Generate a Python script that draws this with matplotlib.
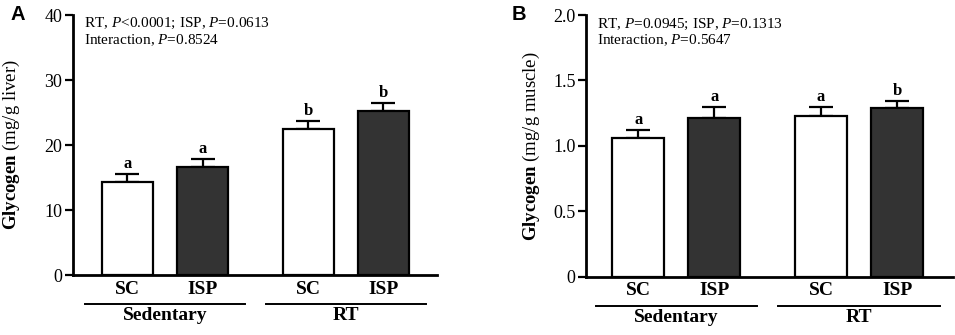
import numpy as np
import matplotlib
matplotlib.use("Agg")
from matplotlib import pyplot as plt

plt.rcParams['font.family'] = ['Liberation Serif', 'DejaVu Serif']
plt.rcParams['mathtext.fontset'] = 'custom'
plt.rcParams['mathtext.rm'] = 'Liberation Serif'
plt.rcParams['mathtext.it'] = 'Liberation Serif:italic'
plt.rcParams['mathtext.bf'] = 'Liberation Serif:bold'

# data
bar_labels = ['SC', 'ISP', 'SC', 'ISP']
groups = ['Sedentary', 'RT']
liver_mean = [14.3, 16.7, 22.4, 25.2]
liver_sem = [1.3, 1.1, 1.3, 1.3]
liver_letters = ['a', 'a', 'b', 'b']
muscle_mean = [1.06, 1.21, 1.23, 1.29]
muscle_sem = [0.058, 0.087, 0.068, 0.053]
muscle_letters = ['a', 'a', 'a', 'b']

pos = np.array([0, 1, 2.4, 3.4])
colors = ['white', '#333333', 'white', '#333333']

fig = plt.figure(figsize=(9.55, 3.35), dpi=100)


def panel(rect, means, sems, letters, ymax, yticks, ticklabels, ylab_unit, stats, letter_off, xlim):
    ax = fig.add_axes(rect)
    ax.bar(pos, means, width=0.68, color=colors, edgecolor='black', linewidth=1.6, zorder=2)
    ax.errorbar(pos, means, yerr=[np.zeros(4), sems], fmt='none', ecolor='black',
                elinewidth=1.6, capsize=8.5, capthick=1.6, zorder=1)
    for x, m, s, l in zip(pos, means, sems, letters):
        ax.text(x, m + s + letter_off, l, ha='center', va='bottom', fontsize=12, fontweight='bold')
    ax.set_xlim(*xlim)
    ax.set_ylim(0, ymax)
    ax.set_yticks(yticks)
    ax.set_yticklabels(ticklabels, fontsize=13)
    ax.set_xticks(pos)
    ax.set_xticklabels(bar_labels, fontsize=14, fontweight='bold')
    ax.tick_params(axis='x', length=0, pad=4)
    ax.tick_params(axis='y', length=6, width=1.6, pad=1.5)
    for sp in ['top', 'right']:
        ax.spines[sp].set_visible(False)
    for sp in ['left', 'bottom']:
        ax.spines[sp].set_linewidth(2)
    ax.set_ylabel(r'$\mathbf{Glycogen}$ (mg/g %s)' % ylab_unit, fontsize=13.5)
    tr = ax.get_xaxis_transform()
    for c, g in zip([0.5, 2.9], groups):
        ax.plot([c - 1.06, c + 1.06], [-0.113, -0.113], color='black', lw=1.4,
                transform=tr, clip_on=False)
        ax.text(c, -0.155, g, transform=tr, ha='center', va='center',
                fontsize=14, fontweight='bold')
    ax.text(0.03, 0.995, stats, transform=ax.transAxes, ha='left', va='top',
            fontsize=11, linespacing=1.1)
    return ax


axA = panel([0.0761, 0.179, 0.3815, 0.776], liver_mean, liver_sem, liver_letters, 40,
            [0, 10, 20, 30, 40], ['0', '10', '20', '30', '40'], 'liver',
            'RT, $P$<0.0001; ISP, $P$=0.0613\nInteraction, $P$=0.8524', 0.3, (-0.724, 4.11))
axB = panel([0.6136, 0.174, 0.384, 0.781], muscle_mean, muscle_sem, muscle_letters, 2.0,
            [0, 0.5, 1.0, 1.5, 2.0], ['0', '0.5', '1.0', '1.5', '2.0'], 'muscle',
            'RT, $P$=0.0945; ISP, $P$=0.1313\nInteraction, $P$=0.5647', 0.015, (-0.686, 4.13))
axA.yaxis.set_label_coords(-0.139, 0.5)
axB.yaxis.set_label_coords(-0.12, 0.5)

fig.text(0.0105, 0.957, 'A', fontsize=14.5, fontweight='bold', family='Liberation Sans', va='center')
fig.text(0.536, 0.957, 'B', fontsize=14.5, fontweight='bold', family='Liberation Sans', va='center')

fig.savefig('out.png', dpi=100)
